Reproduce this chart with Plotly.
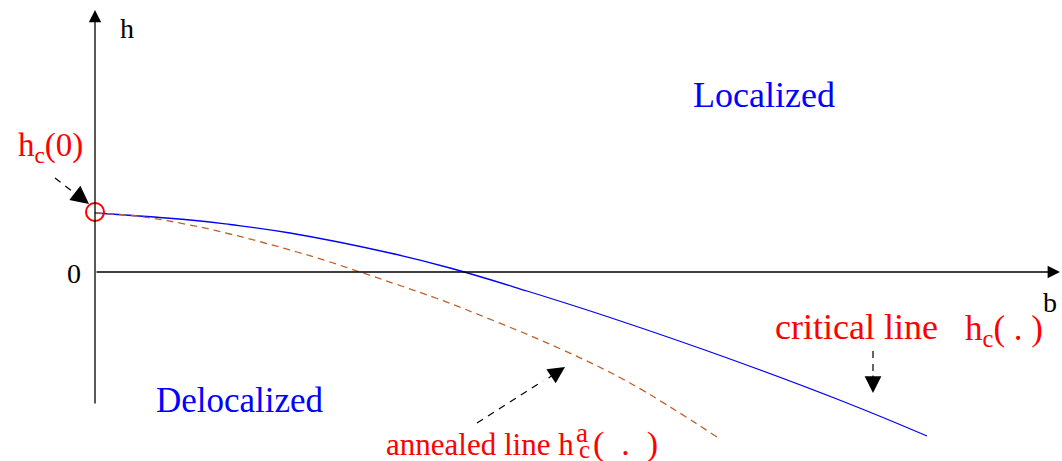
import plotly.graph_objects as go

# critical line h_c(b)
crit_b = [0.0, 0.95, 1.35, 1.95, 2.95, 3.55, 4.32, 5.18, 6.35, 7.52, 8.32]
crit_h = [0.59, 0.52, 0.475, 0.39, 0.19, 0.04, -0.19, -0.465, -0.87, -1.31, -1.64]
# annealed line h_c^a(b)
ann_b = [0.0, 0.45, 0.95, 1.35, 1.68, 2.02, 2.35, 2.68, 3.02, 3.42, 4.02, 4.68, 5.35, 6.22]
ann_h = [0.59, 0.555, 0.47, 0.38, 0.295, 0.20, 0.10, -0.01, -0.125, -0.265, -0.50, -0.78, -1.11, -1.65]
# h_c(0) point
hc0_b = [0.0]
hc0_h = [0.60]

FONT = "Liberation Serif"
RED = "#ff0000"
BLUE = "#0000ff"
BROWN = "#c0602a"

fig = go.Figure()
fig.add_trace(go.Scatter(x=crit_b, y=crit_h, mode="lines",
                         line=dict(color=BLUE, width=1.3, shape="spline", smoothing=1.2),
                         hoverinfo="skip"))
fig.add_trace(go.Scatter(x=ann_b, y=ann_h, mode="lines",
                         line=dict(color=BROWN, width=1.3, dash="7px,5px", shape="spline", smoothing=1.1),
                         hoverinfo="skip"))
fig.add_trace(go.Scatter(x=hc0_b, y=hc0_h, mode="markers",
                         marker=dict(symbol="circle-open", size=18, color=RED, line=dict(width=2, color=RED)),
                         hoverinfo="skip"))

ann = []
# axes with arrow heads
ann.append(dict(x=0, y=2.62, ax=0, ay=-1.33, xref="x", yref="y", axref="x", ayref="y",
                showarrow=True, arrowhead=2, arrowsize=1.9, arrowwidth=1.3, arrowcolor="black", text=""))
ann.append(dict(x=9.65, y=0, ax=0, ay=0, xref="x", yref="y", axref="x", ayref="y",
                showarrow=True, arrowhead=2, arrowsize=1.9, arrowwidth=1.3, arrowcolor="black", text=""))

# dashed arrows: shafts as shapes, heads as annotations
shapes = [
    dict(type="line", x0=-0.40, y0=0.94, x1=-0.18, y1=0.77, xref="x", yref="y",
         line=dict(color="black", width=1.2, dash="7px,6px")),
    dict(type="line", x0=7.78, y0=-0.79, x1=7.78, y1=-1.02, xref="x", yref="y",
         line=dict(color="black", width=1.2, dash="7px,6px")),
    dict(type="line", x0=3.82, y0=-1.51, x1=4.48, y1=-1.09, xref="x", yref="y",
         line=dict(color="black", width=1.2, dash="7px,6px")),
]
ann.append(dict(x=-0.06, y=0.68, ax=-0.20, ay=0.79, xref="x", yref="y", axref="x", ayref="y",
                showarrow=True, arrowhead=2, arrowsize=3.0, arrowwidth=1.2, arrowcolor="black", text=""))
ann.append(dict(x=7.78, y=-1.21, ax=7.78, ay=-1.02, xref="x", yref="y", axref="x", ayref="y",
                showarrow=True, arrowhead=2, arrowsize=2.8, arrowwidth=1.2, arrowcolor="black", text=""))
ann.append(dict(x=4.70, y=-0.95, ax=4.52, ay=-1.07, xref="x", yref="y", axref="x", ayref="y",
                showarrow=True, arrowhead=2, arrowsize=2.8, arrowwidth=1.2, arrowcolor="black", text=""))

def txt(x, y, s, color="black", size=30, xanchor="center"):
    ann.append(dict(x=x, y=y, xref="x", yref="y", text=s, showarrow=False,
                    xanchor=xanchor, yanchor="middle",
                    font=dict(family=FONT, size=size, color=color)))

NB = "\u00a0"
txt(0.32, 2.44, "h", size=28)
txt(-0.21, -0.01, "0", size=28)
txt(9.55, -0.30, "b", size=28)
txt(6.69, 1.77, "Localized", BLUE, 36)
txt(1.45, -1.28, "Delocalized", BLUE, 35)
txt(-0.79, 1.25, "h<sub>c</sub>(0)", RED, 33, "left")
txt(7.61, -0.55, "critical line", RED, 36)
txt(8.68, -0.58, "h<sub>c</sub>( . )", RED, 35, "left")
txt(4.81, -1.72, "annealed line h", RED, 31, "right")
txt(4.87, -1.61, "a", RED, 27)
txt(4.89, -1.77, "c", RED, 25)
txt(4.96, -1.72, "(" + NB * 2 + "." + NB * 2 + ")", RED, 34, "left")

fig.update_layout(
    width=1062, height=461,
    margin=dict(l=0, r=0, t=0, b=0),
    paper_bgcolor="white", plot_bgcolor="white",
    showlegend=False,
    xaxis=dict(range=[-0.95, 9.67], visible=False, fixedrange=True),
    yaxis=dict(range=[-1.89, 2.72], visible=False, fixedrange=True),
    annotations=ann, shapes=shapes,
)
fig.write_html("out.html", config={"displayModeBar": False},
               post_script="document.body.style.margin='0';document.body.style.overflow='hidden';")
